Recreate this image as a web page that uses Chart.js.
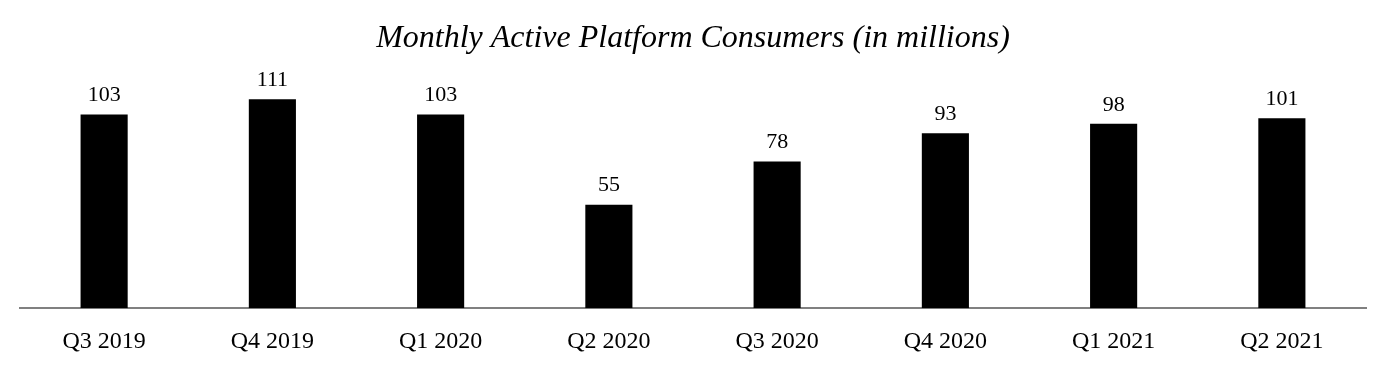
<!DOCTYPE html>
<html>

<head>
  <title>Monthly Active Platform Consumers</title>
  <script src="https://cdn.jsdelivr.net/npm/chart.js@4.4.0/dist/chart.umd.min.js"></script>
  <style>
    html, body { margin: 0; padding: 0; background: #fff; }
    #wrap { width: 1386px; height: 372px; }
  </style>
</head>

<body>
  <div id="wrap"><canvas id="barChart"></canvas></div>
  <script>
    const quarters = ['Q3 2019', 'Q4 2019', 'Q1 2020', 'Q2 2020', 'Q3 2020', 'Q4 2020', 'Q1 2021', 'Q2 2021'];
    const consumers = [103, 111, 103, 55, 78, 93, 98, 101];
    const chartTitle = 'Monthly Active Platform Consumers (in millions)';

    const serif = '"Liberation Serif", "Times New Roman", serif';

    // writes the value over each bar
    const valueLabels = {
      id: 'valueLabels',
      afterDatasetsDraw(chart) {
        const ctx = chart.ctx;
        const meta = chart.getDatasetMeta(0);
        ctx.save();
        ctx.fillStyle = '#000';
        ctx.font = '22px ' + serif;
        ctx.textAlign = 'center';
        ctx.textBaseline = 'bottom';
        meta.data.forEach((bar, i) => {
          ctx.fillText(consumers[i], bar.x, bar.y - 8);
        });
        ctx.restore();
      }
    };

    const ctx = document.getElementById('barChart').getContext('2d');
    const barChart = new Chart(ctx, {
      type: 'bar',
      data: {
        labels: quarters,
        datasets: [{
          label: 'Consumers',
          data: consumers,
          backgroundColor: '#000',
          borderWidth: 0,
          categoryPercentage: 1,
          barPercentage: 0.28
        }]
      },
      options: {
        responsive: true,
        maintainAspectRatio: false,
        animation: false,
        layout: { padding: { left: 20, right: 20, top: 0, bottom: -3 } },
        plugins: {
          legend: { display: false },
          tooltip: { enabled: false },
          title: {
            display: true,
            text: chartTitle,
            color: '#000',
            font: { family: serif, size: 32, style: 'italic', weight: 'normal' },
            padding: { top: 19, bottom: 25 }
          }
        },
        scales: {
          x: {
            grid: { display: false, drawTicks: false },
            border: { display: true, color: '#808080', width: 2 },
            ticks: {
              color: '#000',
              padding: 19,
              font: { family: serif, size: 24 }
            }
          },
          y: {
            display: false,
            min: 0,
            max: 120
          }
        }
      },
      plugins: [valueLabels]
    });
  </script>
</body>

</html>
